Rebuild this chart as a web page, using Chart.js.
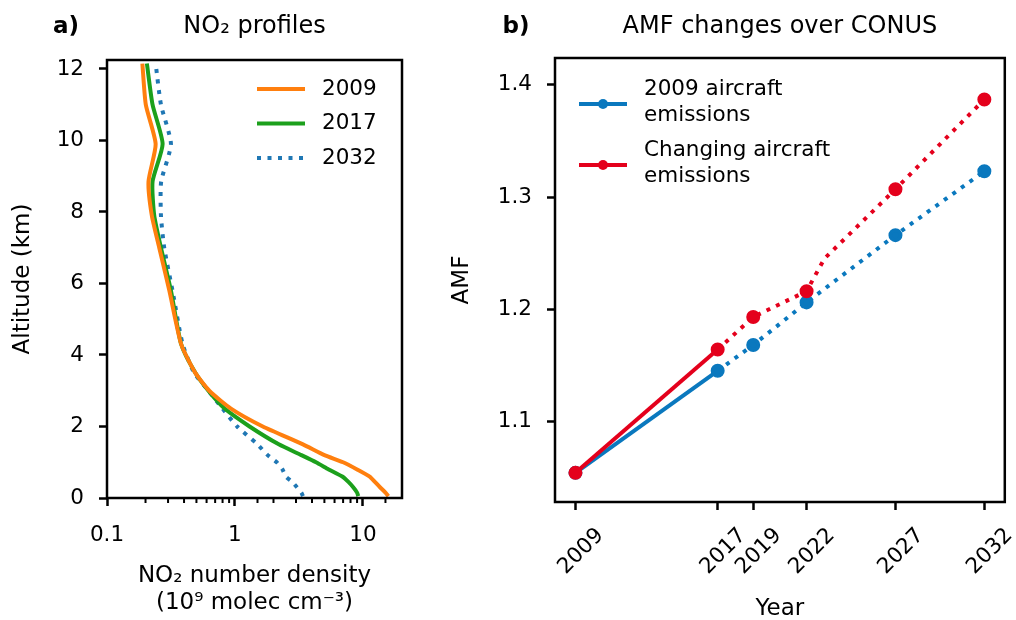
<!DOCTYPE html>
<html>
<head>
<meta charset="utf-8">
<script src="https://cdn.jsdelivr.net/npm/chart.js@4.4.1/dist/chart.umd.min.js"></script>
<style>
  html, body { margin: 0; padding: 0; background: #fff; }
  #wrap { position: relative; width: 1016px; height: 620px; }
  canvas { position: absolute; top: 0; }
  #profiles { left: 0; }
  #amf { left: 430px; }
</style>
</head>
<body>
<div id="wrap">
  <canvas id="profiles" width="430" height="620"></canvas>
  <canvas id="amf" width="586" height="620"></canvas>
</div>
<script>
// panel a: NO2 number density (1e9 molec cm-3) by altitude (km)
const altitudes   = [0.05, 0.15, 0.3, 0.45, 0.6, 0.8, 1.0, 1.2, 1.5, 2.0, 2.5, 3.0, 3.5, 4.3, 5.8, 7.0, 7.9, 8.85, 9.9, 11.0, 12.15];
const density2009 = [15.8, 15.0, 13.6, 12.4, 11.3, 9.0, 7.0, 5.0, 3.4, 1.65, 0.93, 0.63, 0.49, 0.38, 0.307, 0.256, 0.224, 0.211, 0.24, 0.201, 0.189];
const density2017 = [9.2, 9.0, 8.4, 7.7, 6.9, 5.4, 4.3, 3.3, 2.2, 1.3, 0.83, 0.62, 0.49, 0.38, 0.316, 0.264, 0.234, 0.227, 0.272, 0.227, 0.205];
const density2032 = [3.4, 3.3, 3.05, 2.8, 2.5, 2.35, 2.12, 1.8, 1.5, 1.04, 0.8, 0.62, 0.48, 0.39, 0.325, 0.28, 0.264, 0.265, 0.316, 0.264, 0.24];
const densityTicks = [0.1, 1, 10];
const altitudeTicks = [0, 2, 4, 6, 8, 10, 12];

// panel b: AMF over CONUS
const baseYears = [2009, 2017, 2019, 2022, 2027, 2032];
const amfBase = [1.054, 1.145, 1.168, 1.206, 1.266, 1.323];
const changingYears = [2009, 2017, 2019, 2022, 2023, 2027, 2032];
const amfChanging = [1.054, 1.164, 1.193, 1.216, 1.245, 1.307, 1.387];
const yearTicks = [2009, 2017, 2019, 2022, 2027, 2032];
const amfTicks = [1.1, 1.2, 1.3, 1.4];

Chart.defaults.font.family = '"DejaVu Sans", sans-serif';
Chart.defaults.color = '#000';

const toPoints = (xs, ys) => xs.map((x, i) => ({x: x, y: ys[i]}));

// full black box round the plot area
const framePlugin = {
  id: 'frame',
  afterDraw(chart) {
    const {ctx, chartArea: a} = chart;
    ctx.save();
    ctx.strokeStyle = '#000';
    ctx.lineWidth = 2.5;
    ctx.strokeRect(a.left, a.top, a.right - a.left, a.bottom - a.top);
    ctx.restore();
  }
};

const panelTitle = {
  id: 'panelTitle',
  afterDraw(chart, args, opts) {
    const {ctx, chartArea: a} = chart;
    ctx.save();
    ctx.fillStyle = '#000';
    ctx.textBaseline = 'middle';
    ctx.textAlign = 'center';
    ctx.font = 'bold 23px "DejaVu Sans"';
    ctx.fillText(opts.tag, opts.tagX, opts.y);
    ctx.font = '24px "DejaVu Sans"';
    ctx.fillText(opts.text, (a.left + a.right) / 2, opts.y);
    ctx.restore();
  }
};

// legend drawn inside the plot, labels may hold '\n'
const insideLegend = {
  id: 'insideLegend',
  afterDraw(chart, args, opts) {
    const {ctx, chartArea: a} = chart;
    let y = a.top + opts.top;
    const x0 = a.left + opts.left;
    ctx.save();
    ctx.font = opts.font;
    ctx.textBaseline = 'middle';
    ctx.textAlign = 'left';
    chart.data.datasets.forEach(ds => {
      const lines = ds.label.split('\n');
      const h = lines.length * opts.lineHeight;
      const cy = y + h / 2 + (opts.lineShift || 0);
      ctx.strokeStyle = ds.borderColor;
      ctx.lineWidth = ds.borderWidth;
      ctx.lineCap = 'butt';
      ctx.setLineDash(ds.borderDash || []);
      ctx.beginPath();
      ctx.moveTo(x0, cy);
      ctx.lineTo(x0 + opts.lineLength, cy);
      ctx.stroke();
      ctx.setLineDash([]);
      if (opts.markers) {
        ctx.fillStyle = ds.borderColor;
        ctx.beginPath();
        ctx.arc(x0 + opts.lineLength / 2, cy, opts.markerRadius, 0, Math.PI * 2);
        ctx.fill();
      }
      ctx.fillStyle = '#000';
      lines.forEach((t, i) => ctx.fillText(t, x0 + opts.textOffset, y + opts.lineHeight * (i + 0.5)));
      y += h + opts.gap;
    });
    ctx.restore();
  }
};

const isDecade = v => Math.abs(Math.log10(v) - Math.round(Math.log10(v))) < 1e-6;

// short minor ticks on the log axis
const minorTicks = {
  id: 'minorTicks',
  afterDraw(chart) {
    const scale = chart.scales.x;
    if (scale.type !== 'logarithmic') return;
    const {ctx, chartArea: a} = chart;
    ctx.save();
    ctx.strokeStyle = '#000';
    ctx.lineWidth = 2;
    scale.ticks.forEach(t => {
      if (isDecade(t.value)) return;
      const px = scale.getPixelForValue(t.value);
      if (px < a.left || px > a.right - 1) return;
      ctx.beginPath();
      ctx.moveTo(px, a.bottom);
      ctx.lineTo(px, a.bottom + 5);
      ctx.stroke();
    });
    ctx.restore();
  }
};

const tickFont = {size: 21.5};
const labelFont = {size: 23, lineHeight: 1.17};

new Chart(document.getElementById('profiles'), {
  type: 'scatter',
  data: {
    datasets: [{
      label: '2009',
      data: toPoints(density2009, altitudes),
      borderColor: '#ff7f0e',
      borderWidth: 4,
    }, {
      label: '2017',
      data: toPoints(density2017, altitudes),
      borderColor: '#1ca01c',
      borderWidth: 4,
    }, {
      label: '2032',
      data: toPoints(density2032, altitudes),
      borderColor: '#1f77b4',
      borderWidth: 4,
      borderDash: [4, 6.5],
    }]
  },
  options: {
    responsive: false,
    animation: false,
    devicePixelRatio: 1,
    showLine: true,
    elements: {point: {radius: 0}, line: {borderCapStyle: 'butt', borderJoinStyle: 'round', tension: 0.2}},
    layout: {padding: {left: 0, top: 60, right: 28, bottom: 0}},
    scales: {
      x: {
        type: 'logarithmic',
        min: 0.1,
        max: 20.2,
        border: {display: false},
        grid: {
          drawOnChartArea: false,
          tickLength: 8,
          tickWidth: 2.5,
          tickColor: ctx => (ctx.tick && isDecade(ctx.tick.value)) ? '#000' : 'rgba(0,0,0,0)',
        },
        ticks: {
          font: tickFont,
          padding: 17,
          autoSkip: false,
          maxRotation: 0,
          callback: v => densityTicks.some(d => Math.abs(d - v) < 1e-9) ? String(v) : '',
        },
        title: {
          display: true,
          text: ['NO\u2082 number density', '(10\u2079 molec cm\u207b\u00b3)'],
          font: labelFont,
          padding: {top: 0, bottom: 4},
        },
        afterFit: s => { s.height = 122; },
      },
      y: {
        min: 0,
        max: 12.25,
        border: {display: false},
        grid: {drawOnChartArea: false, tickLength: 8, tickWidth: 2.5, tickColor: '#000'},
        ticks: {font: tickFont, padding: 15, callback: v => String(v)},
        afterBuildTicks: s => { s.ticks = altitudeTicks.map(v => ({value: v})); },
        title: {display: true, text: 'Altitude (km)', font: labelFont, padding: {top: 10, bottom: 0}},
        afterFit: s => { s.width = 107; },
      },
    },
    plugins: {
      legend: {display: false},
      tooltip: {enabled: false},
      panelTitle: {tag: 'a)', tagX: 66, text: 'NO\u2082 profiles', y: 27},
      insideLegend: {top: 16.5, left: 150, lineLength: 48, textOffset: 65, lineHeight: 25, gap: 9.5, font: '21.5px "DejaVu Sans"'},
    },
  },
  plugins: [framePlugin, panelTitle, insideLegend, minorTicks],
});

const markerRadius = ctx => (ctx.raw && yearTicks.includes(ctx.raw.x)) ? 5 : 0;
const dottedAfter2017 = ctx => ctx.p0.parsed.x >= 2017 ? [4, 6.5] : undefined;

new Chart(document.getElementById('amf'), {
  type: 'scatter',
  data: {
    datasets: [{
      label: '2009 aircraft\nemissions',
      data: toPoints(baseYears, amfBase),
      borderColor: '#0a78be',
      backgroundColor: '#0a78be',
      pointBackgroundColor: '#0a78be',
      borderWidth: 4,
      order: 2,
    }, {
      label: 'Changing aircraft\nemissions',
      data: toPoints(changingYears, amfChanging),
      borderColor: '#e4001c',
      backgroundColor: '#e4001c',
      pointBackgroundColor: '#e4001c',
      borderWidth: 4,
      order: 1,
    }]
  },
  options: {
    responsive: false,
    animation: false,
    devicePixelRatio: 1,
    showLine: true,
    elements: {
      point: {radius: markerRadius, borderWidth: 0, hoverRadius: markerRadius},
      line: {borderCapStyle: 'butt'},
    },
    datasets: {scatter: {segment: {borderDash: dottedAfter2017}}},
    layout: {padding: {left: 0, top: 58, right: 6, bottom: 0}},
    scales: {
      x: {
        type: 'linear',
        min: 2007.85,
        max: 2033.15,
        border: {display: false},
        grid: {drawOnChartArea: false, tickLength: 8, tickWidth: 2.5, tickColor: '#000'},
        afterBuildTicks: s => { s.ticks = yearTicks.map(v => ({value: v})); },
        ticks: {
          font: tickFont,
          padding: 13,
          labelOffset: 25,
          autoSkip: false,
          minRotation: 45,
          maxRotation: 45,
          callback: v => String(v),
        },
        title: {display: true, text: 'Year', font: labelFont, padding: {top: 0, bottom: -2}},
        afterFit: s => { s.height = 118; },
      },
      y: {
        min: 1.028,
        max: 1.424,
        border: {display: false},
        grid: {drawOnChartArea: false, tickLength: 8, tickWidth: 2.5, tickColor: '#000'},
        afterBuildTicks: s => { s.ticks = amfTicks.map(v => ({value: v})); },
        ticks: {font: tickFont, padding: 15, callback: v => v.toFixed(1)},
        title: {display: true, text: 'AMF', font: labelFont, padding: {top: 19, bottom: 0}},
        afterFit: s => { s.width = 125; },
      },
    },
    plugins: {
      legend: {display: false},
      tooltip: {enabled: false},
      panelTitle: {tag: 'b)', tagX: 86, text: 'AMF changes over CONUS', y: 27},
      insideLegend: {top: 19, left: 24, lineLength: 48, textOffset: 65, lineHeight: 25.5, gap: 10, lineShift: 1.5,
        markers: true, markerRadius: 5, font: '21.5px "DejaVu Sans"'},
    },
  },
  plugins: [framePlugin, panelTitle, insideLegend],
});
</script>
</body>
</html>
